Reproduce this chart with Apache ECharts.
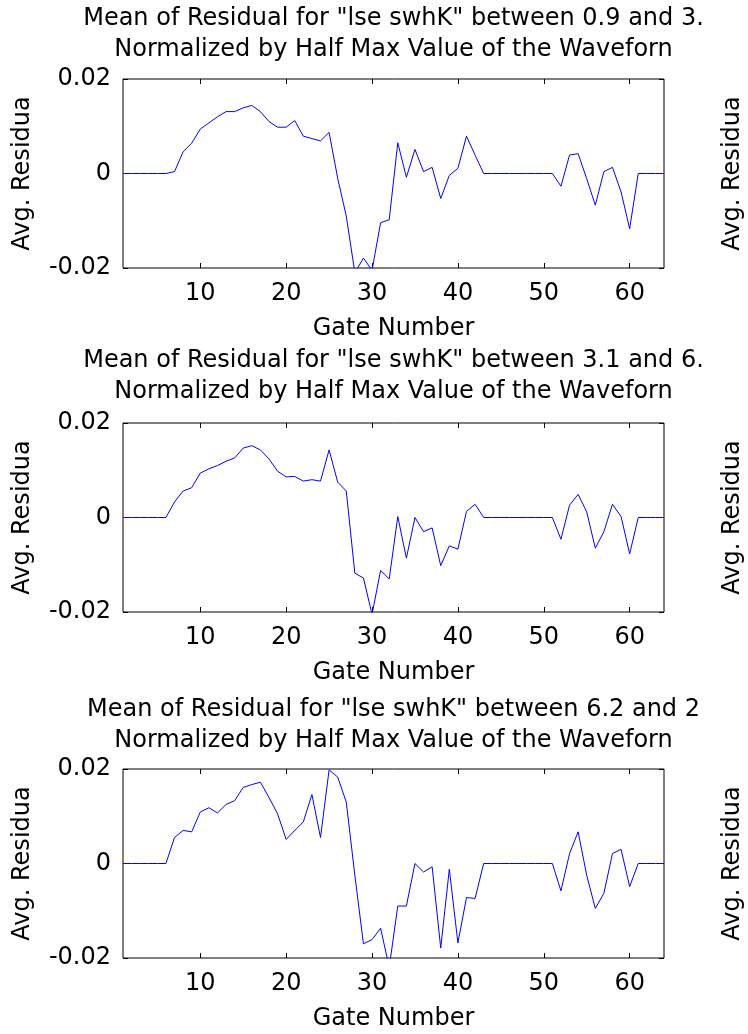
<!DOCTYPE html>
<html>
<head>
<meta charset="utf-8">
<script src="https://cdn.jsdelivr.net/npm/echarts@6/dist/echarts.min.js"></script>
<style>
html,body{margin:0;padding:0;background:#fff;}
#chart{width:748px;height:1034px;}
</style>
</head>
<body>
<div id="chart"></div>
<script>
const gates = [1,2,3,4,5,6,7,8,9,10,11,12,13,14,15,16,17,18,19,20,21,22,23,24,25,26,27,28,29,30,31,32,
  33,34,35,36,37,38,39,40,41,42,43,44,45,46,47,48,49,50,51,52,53,54,55,56,57,58,59,60,61,62,63,64];

const residualA = [0,0,0,0,0,0,0.0004,0.0046,0.0064,0.0094,0.0107,0.0120,0.0131,0.0131,0.0139,0.0144,
  0.0131,0.0110,0.0098,0.0098,0.0112,0.0079,0.0074,0.0069,0.0087,-0.0010,-0.0090,-0.0210,-0.0179,-0.0205,-0.0104,-0.0098,
  0.0065,-0.0008,0.0051,0.0004,0.0013,-0.0053,-0.0004,0.0011,0.0079,0.0039,0,0,0,0,0,0,
  0,0,0,-0.0027,0.0039,0.0042,-0.0011,-0.0067,0.0004,0.0013,-0.0039,-0.0117,0,0,0,0];

const residualB = [0,0,0,0,0,0,0.0033,0.0056,0.0063,0.0094,0.0103,0.0110,0.0119,0.0126,0.0147,0.0152,
  0.0143,0.0124,0.0098,0.0086,0.0087,0.0077,0.0080,0.0077,0.0143,0.0075,0.0056,-0.0118,-0.0128,-0.0205,-0.0112,-0.0130,
  0.0002,-0.0086,0,-0.0030,-0.0022,-0.0102,-0.0060,-0.0067,0.0013,0.0028,0,0,0,0,0,0,
  0,0,0,-0.0046,0.0026,0.0049,0.0012,-0.0065,-0.0030,0.0028,0.0002,-0.0077,0,0,0,0];

const residualC = [0,0,0,0,0,0,0.0055,0.0070,0.0067,0.0109,0.0118,0.0107,0.0125,0.0133,0.0161,0.0167,
  0.0172,0.0140,0.0105,0.0051,0.0070,0.0088,0.0146,0.0055,0.0198,0.0183,0.0130,-0.0025,-0.0170,-0.0161,-0.0137,-0.0220,
  -0.0090,-0.0090,0,-0.0018,-0.0007,-0.0179,-0.0012,-0.0168,-0.0072,-0.0074,0,0,0,0,0,0,
  0,0,0,-0.0058,0.0021,0.0067,-0.0025,-0.0095,-0.0063,0.0021,0.0030,-0.0049,0,0,0,0];

const xTicks = [10,20,30,40,50,60];
const titleLine1 = [
  'Mean of Residual for "lse swhK" between 0.9 and 3.',
  'Mean of Residual for "lse swhK" between 3.1 and 6.',
  'Mean of Residual for "lse swhK" between 6.2 and 2'
];
const titleLine2 = 'Normalized by Half Max Value of the Waveforn';
const xName = 'Gate Number';
const yName = 'Avg. Residua';

const FONT = '"DejaVu Sans", "Liberation Sans", Arial, sans-serif';
const FS = 24;
const allSeries = [residualA, residualB, residualC];
const gridTops = [79, 423, 769];
const titleTops = [3, 345, 694];
const plotLeft = 123, plotWidth = 541, plotHeight = 189;

const chart = echarts.init(document.getElementById('chart'), null, {renderer: 'canvas'});

const grids = [], xAxes = [], yAxes = [], series = [], titles = [], graphics = [];
allSeries.forEach((vals, i) => {
  grids.push({left: plotLeft, top: gridTops[i], width: plotWidth, height: plotHeight,
    show: true, borderColor: '#000', borderWidth: 1, backgroundColor: '#fff'});
  const tickStyle = {show: true, inside: true, length: 5, customValues: xTicks, lineStyle: {color: '#000', width: 1}};
  xAxes.push({type: 'value', gridIndex: i, position: 'bottom', min: 1, max: 64,
    axisLine: {show: false, onZero: false}, splitLine: {show: false},
    axisTick: tickStyle,
    axisLabel: {customValues: xTicks, fontSize: FS, color: '#000', fontFamily: FONT, margin: 14},
    name: xName, nameLocation: 'middle', nameGap: 49,
    nameTextStyle: {fontSize: FS, color: '#000', fontFamily: FONT}});
  xAxes.push({type: 'value', gridIndex: i, position: 'top', min: 1, max: 64,
    axisLine: {show: false, onZero: false}, splitLine: {show: false},
    axisTick: tickStyle, axisLabel: {show: false}});
  const yTick = {show: true, inside: true, length: 5, lineStyle: {color: '#000', width: 1}};
  yAxes.push({type: 'value', gridIndex: i, position: 'left', min: -0.02, max: 0.02, interval: 0.02,
    axisLine: {show: false, onZero: false}, splitLine: {show: false}, axisTick: yTick,
    axisLabel: {fontSize: FS, color: '#000', fontFamily: FONT, margin: 12,
      formatter: v => Math.abs(v) < 1e-9 ? '0' : v.toFixed(2)}});
  yAxes.push({type: 'value', gridIndex: i, position: 'right', min: -0.02, max: 0.02, interval: 0.02,
    axisLine: {show: false, onZero: false}, splitLine: {show: false}, axisTick: yTick, axisLabel: {show: false}});
  series.push({type: 'line', xAxisIndex: 2 * i, yAxisIndex: 2 * i,
    data: gates.map((g, k) => [g, vals[k]]),
    showSymbol: false, symbol: 'none', clip: true, animation: false,
    lineStyle: {color: '#0000ff', width: 1}});
  titles.push({text: titleLine1[i] + '\n' + titleLine2, left: plotLeft + plotWidth / 2, top: titleTops[i],
    textAlign: 'center', padding: 0,
    textStyle: {fontSize: FS, fontWeight: 'normal', color: '#000', fontFamily: FONT, lineHeight: 31}});
  const cy = gridTops[i] + plotHeight / 2;
  graphics.push({type: 'text', x: 23, y: cy, rotation: Math.PI / 2,
    style: {text: yName, font: FS + 'px ' + FONT, fill: '#000', textAlign: 'center', textVerticalAlign: 'middle'}});
  graphics.push({type: 'text', x: 733, y: cy, rotation: Math.PI / 2,
    style: {text: yName, font: FS + 'px ' + FONT, fill: '#000', textAlign: 'center', textVerticalAlign: 'middle'}});
});

chart.setOption({
  animation: false,
  backgroundColor: '#fff',
  title: titles,
  grid: grids,
  xAxis: xAxes,
  yAxis: yAxes,
  series: series,
  graphic: graphics
});
</script>
</body>
</html>
